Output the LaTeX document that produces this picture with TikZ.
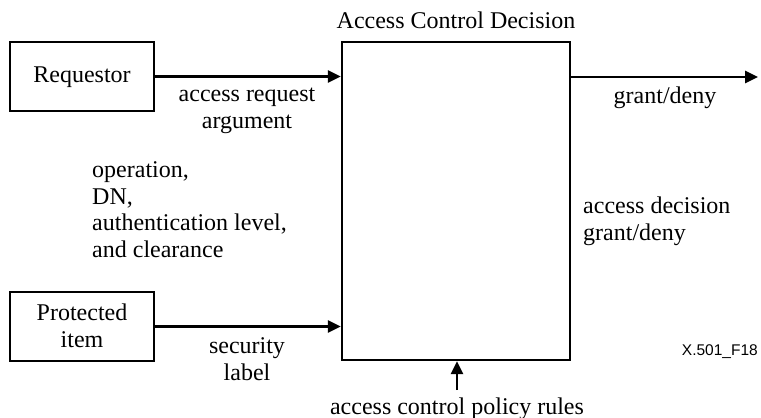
\documentclass[tikz,border=0pt]{standalone}
\usepackage{fontspec}
\setmainfont{Liberation Serif}
\newfontfamily\figsans{Liberation Sans}
\usetikzlibrary{arrows.meta}
\begin{document}
\begin{tikzpicture}[x=1pt,y=-1pt,
  box/.style={draw, line width=2.4pt, inner sep=0pt},
  conn/.style={line width=2.8pt, -{Triangle[length=13pt,width=12pt]}},
  lbl/.style={font=\fontsize{24}{26.5}\selectfont, inner sep=0pt, anchor=base}]
\useasboundingbox (0,0) rectangle (761,418);
\node[box, minimum width=144pt, minimum height=69pt, lbl, anchor=center] (req) at (82,76.5) {};
\node[lbl] (reqt) at (82,82) {Requestor};
\node[box, minimum width=144pt, minimum height=69pt, anchor=center] (prot) at (82,326.5) {};
\node[lbl, align=center] (prott) at (82,347) {Protected\\item};
\node[box, minimum width=228pt, minimum height=318pt, anchor=center] (acd) at (456,201) {};
\node[lbl] (title) at (456,28) {Access Control Decision};
\coordinate (out) at (758,77);
\coordinate (pol) at (457,390);
\draw[conn] (req.east) -- (req.east -| acd.west);
\draw[conn] (prot.east) -- (prot.east -| acd.west);
\draw[conn] (acd.east |- out) -- (out);
\draw[conn] (pol) -- (pol |- acd.south);
\node[lbl, align=center] (arg) at (247,128) {access request\\argument};
\node[lbl, align=left, anchor=base west] (ops) at (92,257) {operation,\\DN,\\authentication level,\\and clearance};
\node[lbl, align=center] (sec) at (247,380) {security\\label};
\node[lbl] (gd) at (665,103) {grant/deny};
\node[lbl, align=left, anchor=base west] (dec) at (583,240) {access decision\\grant/deny};
\node[lbl] (rules) at (457,414) {access control policy rules};
\node[font=\figsans\fontsize{15.5}{17}\selectfont, inner sep=0pt, anchor=base east] (fig) at (758,355) {X.501\_F18};
\end{tikzpicture}
\end{document}
